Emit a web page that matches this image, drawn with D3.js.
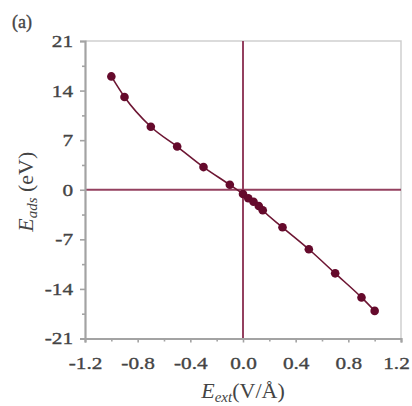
<!DOCTYPE html>
<html>
<head>
<meta charset="utf-8">
<script src="https://cdn.jsdelivr.net/npm/d3@7"></script>
<style>
  html, body { margin: 0; padding: 0; background: #fff; }
  svg { display: block; }
  text { font-family: "Liberation Serif", "Times New Roman", serif; }
</style>
</head>
<body>
<svg id="chart" width="412" height="406"></svg>
<script>
// Adsorption energy versus applied external field
const field = [-1.0, -0.9, -0.7, -0.5, -0.3, -0.1, 0.0, 0.04, 0.08, 0.12, 0.15, 0.3, 0.5, 0.7, 0.9, 1.0];
const energy = [16.0, 13.1, 8.9, 6.1, 3.2, 0.7, -0.6, -1.2, -1.7, -2.3, -2.9, -5.3, -8.4, -11.8, -15.2, -17.1];
const xTicks = [-1.2, -0.8, -0.4, 0.0, 0.4, 0.8, 1.2];
const xMinor = [-1.0, -0.6, -0.2, 0.2, 0.6, 1.0];
const yTicks = [-21, -14, -7, 0, 7, 14, 21];
const yMinor = [-17.5, -10.5, -3.5, 3.5, 10.5, 17.5];

const svg = d3.select("#chart");
const plotLeft = 85, plotRight = 401, plotTop = 41, plotBottom = 338.5;
const x = d3.scaleLinear().domain([-1.2, 1.2]).range([plotLeft, plotRight]);
const y = d3.scaleLinear().domain([-21, 21]).range([plotBottom, plotTop]);

const axisGrey = "#a3a3a3";
const textGrey = "#444";
const stretch = 1.25;

// top and right frame
svg.append("path")
  .attr("d", `M${plotLeft},${plotTop}H${plotRight}V${plotBottom}`)
  .attr("fill", "none").attr("stroke", "#cfcfcf").attr("stroke-width", 1.5);

// zero reference lines
svg.append("line")
  .attr("x1", plotLeft).attr("x2", plotRight).attr("y1", y(0)).attr("y2", y(0))
  .attr("stroke", "#94405f").attr("stroke-width", 2);
svg.append("line")
  .attr("x1", x(0)).attr("x2", x(0)).attr("y1", plotTop).attr("y2", plotBottom)
  .attr("stroke", "#94405f").attr("stroke-width", 2);

// x axis
const gx = svg.append("g").attr("transform", `translate(0,${plotBottom})`);
gx.call(d3.axisBottom(x).tickValues(xTicks).tickSize(4).tickPadding(14)
  .tickFormat(d3.format(".1f")));
gx.append("g").call(d3.axisBottom(x).tickValues(xMinor).tickSize(3).tickFormat(""))
  .select(".domain").remove();

// y axis
const gy = svg.append("g").attr("transform", `translate(${plotLeft},0)`);
gy.call(d3.axisLeft(y).tickValues(yTicks).tickSize(5).tickPadding(7).tickFormat(d3.format("d")));
gy.append("g").call(d3.axisLeft(y).tickValues(yMinor).tickSize(3).tickFormat(""))
  .select(".domain").remove();

[gx, gy].forEach(g => {
  g.selectAll(".domain").attr("stroke", axisGrey).attr("stroke-width", 2.2);
  g.selectAll(".tick line").attr("stroke", axisGrey).attr("stroke-width", 1.6);
  g.selectAll(".tick text")
    .attr("fill", textGrey)
    .attr("stroke", textGrey).attr("stroke-width", 0.35)
    .style("font-size", "17px")
    .style("font-family", "'Liberation Serif', serif")
    .text(function () { return this.textContent.replace("\u2212", "-"); });
});
gx.selectAll(".tick text").attr("transform", `scale(${stretch},1)`);
// keep the last label inside the page edge
gx.selectAll(".tick text").filter(d => d === 1.2).attr("x", -4);
gy.selectAll(".tick text").each(function () {
  const t = d3.select(this);
  t.attr("x", +t.attr("x") / stretch).attr("transform", `scale(${stretch},1)`);
});

// fitted curve
const line = d3.line()
  .x((d, i) => x(field[i]))
  .y(d => y(d))
  .curve(d3.curveMonotoneX);
svg.append("path")
  .attr("d", line(energy))
  .attr("fill", "none").attr("stroke", "#6d1633").attr("stroke-width", 1.6);

// data points
svg.append("g").selectAll("circle")
  .data(energy)
  .join("circle")
  .attr("cx", (d, i) => x(field[i]))
  .attr("cy", d => y(d))
  .attr("r", 4.3)
  .attr("fill", "#650a2c");

// panel label
svg.append("text")
  .attr("x", 12).attr("y", 28)
  .attr("fill", textGrey)
  .attr("stroke", textGrey).attr("stroke-width", 0.35)
  .style("font-size", "18px")
  .text("(a)");

// x axis title
const xt = svg.append("text")
  .attr("x", x(0)).attr("y", 398)
  .attr("text-anchor", "middle")
  .attr("fill", textGrey)
  .style("font-size", "22px");
xt.append("tspan").style("font-style", "italic").text("E");
xt.append("tspan").style("font-style", "italic").style("font-size", "15px").attr("dy", 4).text("ext");
xt.append("tspan").attr("dy", -4).text("(V/Å)");

// y axis title
const yt = svg.append("text")
  .attr("transform", `translate(33,${y(0) + 2}) rotate(-90)`)
  .attr("text-anchor", "middle")
  .attr("fill", textGrey)
  .style("font-size", "22px");
yt.append("tspan").style("font-style", "italic").text("E");
yt.append("tspan").style("font-style", "italic").style("font-size", "15px").attr("dy", 4).text("ads");
yt.append("tspan").attr("dy", -4).text(" (eV)");
</script>
</body>
</html>
